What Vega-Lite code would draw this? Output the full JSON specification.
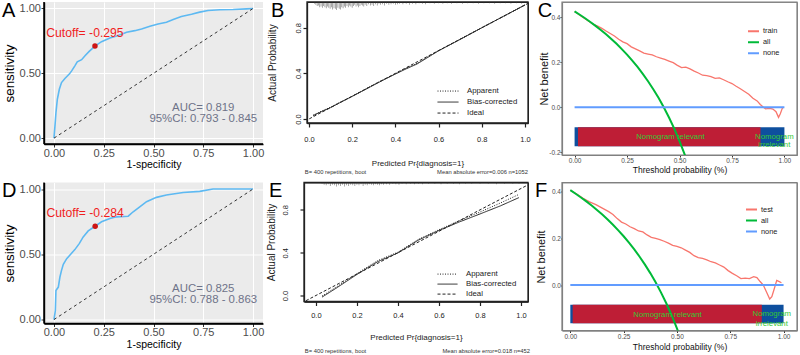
{
  "$schema": "https://vega.github.io/schema/vega-lite/v6.json",
  "background": "white",
  "padding": {"left": 2, "top": 0, "right": 0, "bottom": 0},
  "config": {
    "font": "Liberation Sans",
    "view": {"stroke": "#222222", "strokeWidth": 1},
    "title": {"anchor": "start", "frame": "bounds", "fontSize": 20, "fontWeight": "normal", "color": "#000000", "baseline": "top", "offset": -19.5},
    "legend": {"padding": 0}
  },
  "datasets": {
    "diag": [{"d": 0}, {"d": 1}],
    "rocTrain": [
      {"fpr": 0, "tpr": 0}, {"fpr": 0.005, "tpr": 0.093}, {"fpr": 0.01, "tpr": 0.196}, {"fpr": 0.017, "tpr": 0.3},
      {"fpr": 0.027, "tpr": 0.377}, {"fpr": 0.038, "tpr": 0.429}, {"fpr": 0.055, "tpr": 0.46}, {"fpr": 0.077, "tpr": 0.494},
      {"fpr": 0.089, "tpr": 0.519}, {"fpr": 0.105, "tpr": 0.558}, {"fpr": 0.117, "tpr": 0.589}, {"fpr": 0.139, "tpr": 0.605},
      {"fpr": 0.156, "tpr": 0.636}, {"fpr": 0.177, "tpr": 0.669}, {"fpr": 0.206, "tpr": 0.71}, {"fpr": 0.239, "tpr": 0.744},
      {"fpr": 0.281, "tpr": 0.773}, {"fpr": 0.323, "tpr": 0.791}, {"fpr": 0.365, "tpr": 0.817}, {"fpr": 0.406, "tpr": 0.829},
      {"fpr": 0.44, "tpr": 0.842}, {"fpr": 0.482, "tpr": 0.863}, {"fpr": 0.523, "tpr": 0.881}, {"fpr": 0.565, "tpr": 0.894},
      {"fpr": 0.599, "tpr": 0.915}, {"fpr": 0.64, "tpr": 0.938}, {"fpr": 0.691, "tpr": 0.956}, {"fpr": 0.732, "tpr": 0.972},
      {"fpr": 0.774, "tpr": 0.984}, {"fpr": 0.833, "tpr": 0.99}, {"fpr": 0.9, "tpr": 0.992}, {"fpr": 0.967, "tpr": 0.997},
      {"fpr": 1, "tpr": 1}
    ],
    "cutTrain": [{"fpr": 0.206, "tpr": 0.71, "label": "Cutoff= -0.295"}],
    "rocTest": [
      {"fpr": 0, "tpr": 0}, {"fpr": 0.007, "tpr": 0.069}, {"fpr": 0.01, "tpr": 0.223}, {"fpr": 0.022, "tpr": 0.249},
      {"fpr": 0.03, "tpr": 0.326}, {"fpr": 0.038, "tpr": 0.377}, {"fpr": 0.047, "tpr": 0.423}, {"fpr": 0.064, "tpr": 0.467},
      {"fpr": 0.084, "tpr": 0.5}, {"fpr": 0.105, "tpr": 0.536}, {"fpr": 0.127, "tpr": 0.582}, {"fpr": 0.147, "tpr": 0.633},
      {"fpr": 0.172, "tpr": 0.679}, {"fpr": 0.207, "tpr": 0.715}, {"fpr": 0.239, "tpr": 0.749}, {"fpr": 0.281, "tpr": 0.774},
      {"fpr": 0.314, "tpr": 0.787}, {"fpr": 0.373, "tpr": 0.792}, {"fpr": 0.398, "tpr": 0.826}, {"fpr": 0.431, "tpr": 0.864},
      {"fpr": 0.465, "tpr": 0.903}, {"fpr": 0.515, "tpr": 0.936}, {"fpr": 0.565, "tpr": 0.954}, {"fpr": 0.649, "tpr": 0.974},
      {"fpr": 0.732, "tpr": 0.982}, {"fpr": 0.799, "tpr": 1}, {"fpr": 1, "tpr": 1}
    ],
    "cutTest": [{"fpr": 0.207, "tpr": 0.715, "label": "Cutoff= -0.284"}],
    "calTrain": [
      {"curve": "Apparent", "pred": 0.02, "obs": 0.035}, {"curve": "Apparent", "pred": 0.05, "obs": 0.062},
      {"curve": "Apparent", "pred": 0.1, "obs": 0.104}, {"curve": "Apparent", "pred": 0.15, "obs": 0.152},
      {"curve": "Apparent", "pred": 0.2, "obs": 0.2}, {"curve": "Apparent", "pred": 0.25, "obs": 0.25},
      {"curve": "Apparent", "pred": 0.3, "obs": 0.302}, {"curve": "Apparent", "pred": 0.35, "obs": 0.35},
      {"curve": "Apparent", "pred": 0.4, "obs": 0.398}, {"curve": "Apparent", "pred": 0.45, "obs": 0.445},
      {"curve": "Apparent", "pred": 0.5, "obs": 0.488}, {"curve": "Apparent", "pred": 0.55, "obs": 0.545},
      {"curve": "Apparent", "pred": 0.6, "obs": 0.6}, {"curve": "Apparent", "pred": 0.7, "obs": 0.7},
      {"curve": "Apparent", "pred": 0.8, "obs": 0.8}, {"curve": "Apparent", "pred": 0.9, "obs": 0.9},
      {"curve": "Apparent", "pred": 1.0, "obs": 1.0},
      {"curve": "Bias-corrected", "pred": 0.02, "obs": 0.03}, {"curve": "Bias-corrected", "pred": 0.05, "obs": 0.058},
      {"curve": "Bias-corrected", "pred": 0.1, "obs": 0.1}, {"curve": "Bias-corrected", "pred": 0.15, "obs": 0.15},
      {"curve": "Bias-corrected", "pred": 0.2, "obs": 0.198}, {"curve": "Bias-corrected", "pred": 0.25, "obs": 0.248},
      {"curve": "Bias-corrected", "pred": 0.3, "obs": 0.298}, {"curve": "Bias-corrected", "pred": 0.35, "obs": 0.347},
      {"curve": "Bias-corrected", "pred": 0.4, "obs": 0.394}, {"curve": "Bias-corrected", "pred": 0.45, "obs": 0.44},
      {"curve": "Bias-corrected", "pred": 0.5, "obs": 0.482}, {"curve": "Bias-corrected", "pred": 0.55, "obs": 0.54},
      {"curve": "Bias-corrected", "pred": 0.6, "obs": 0.598}, {"curve": "Bias-corrected", "pred": 0.7, "obs": 0.698},
      {"curve": "Bias-corrected", "pred": 0.8, "obs": 0.8}, {"curve": "Bias-corrected", "pred": 0.9, "obs": 0.9},
      {"curve": "Bias-corrected", "pred": 1.0, "obs": 1.0},
      {"curve": "Ideal", "pred": -0.06, "obs": -0.06}, {"curve": "Ideal", "pred": 1.06, "obs": 1.06}
    ],
    "calTest": [
      {"curve": "Apparent", "pred": 0.03, "obs": -0.005}, {"curve": "Apparent", "pred": 0.1, "obs": 0.08},
      {"curve": "Apparent", "pred": 0.2, "obs": 0.205}, {"curve": "Apparent", "pred": 0.3, "obs": 0.325},
      {"curve": "Apparent", "pred": 0.4, "obs": 0.405}, {"curve": "Apparent", "pred": 0.5, "obs": 0.525},
      {"curve": "Apparent", "pred": 0.6, "obs": 0.615}, {"curve": "Apparent", "pred": 0.7, "obs": 0.7},
      {"curve": "Apparent", "pred": 0.8, "obs": 0.78}, {"curve": "Apparent", "pred": 0.9, "obs": 0.865},
      {"curve": "Apparent", "pred": 0.99, "obs": 0.945},
      {"curve": "Bias-corrected", "pred": 0.03, "obs": -0.015}, {"curve": "Bias-corrected", "pred": 0.1, "obs": 0.07},
      {"curve": "Bias-corrected", "pred": 0.2, "obs": 0.197}, {"curve": "Bias-corrected", "pred": 0.3, "obs": 0.315},
      {"curve": "Bias-corrected", "pred": 0.4, "obs": 0.398}, {"curve": "Bias-corrected", "pred": 0.5, "obs": 0.518},
      {"curve": "Bias-corrected", "pred": 0.6, "obs": 0.608}, {"curve": "Bias-corrected", "pred": 0.7, "obs": 0.688},
      {"curve": "Bias-corrected", "pred": 0.8, "obs": 0.762}, {"curve": "Bias-corrected", "pred": 0.9, "obs": 0.838},
      {"curve": "Bias-corrected", "pred": 0.99, "obs": 0.915},
      {"curve": "Ideal", "pred": -0.07, "obs": -0.07}, {"curve": "Ideal", "pred": 1.07, "obs": 1.07}
    ],
    "rugTrain": [
      {"p": 0.025, "n": 3}, {"p": 0.032, "n": 5}, {"p": 0.038, "n": 7}, {"p": 0.044, "n": 6}, {"p": 0.05, "n": 9},
      {"p": 0.056, "n": 8}, {"p": 0.062, "n": 10}, {"p": 0.068, "n": 7}, {"p": 0.074, "n": 9}, {"p": 0.08, "n": 11},
      {"p": 0.086, "n": 8}, {"p": 0.092, "n": 10}, {"p": 0.098, "n": 12}, {"p": 0.104, "n": 9}, {"p": 0.11, "n": 13},
      {"p": 0.116, "n": 11}, {"p": 0.122, "n": 12}, {"p": 0.128, "n": 14}, {"p": 0.134, "n": 10}, {"p": 0.14, "n": 12},
      {"p": 0.146, "n": 13}, {"p": 0.152, "n": 9}, {"p": 0.158, "n": 11}, {"p": 0.164, "n": 8}, {"p": 0.17, "n": 10},
      {"p": 0.176, "n": 7}, {"p": 0.182, "n": 9}, {"p": 0.188, "n": 6}, {"p": 0.194, "n": 8}, {"p": 0.2, "n": 10},
      {"p": 0.206, "n": 7}, {"p": 0.212, "n": 5}, {"p": 0.218, "n": 8}, {"p": 0.224, "n": 6}, {"p": 0.23, "n": 9},
      {"p": 0.236, "n": 7}, {"p": 0.242, "n": 5}, {"p": 0.248, "n": 6}, {"p": 0.254, "n": 8}, {"p": 0.26, "n": 5},
      {"p": 0.268, "n": 7}, {"p": 0.276, "n": 4}, {"p": 0.284, "n": 6}, {"p": 0.292, "n": 5}, {"p": 0.3, "n": 7},
      {"p": 0.308, "n": 4}, {"p": 0.316, "n": 6}, {"p": 0.324, "n": 3}, {"p": 0.332, "n": 5}, {"p": 0.34, "n": 4},
      {"p": 0.35, "n": 6}, {"p": 0.36, "n": 3}, {"p": 0.37, "n": 5}, {"p": 0.38, "n": 4}, {"p": 0.39, "n": 3},
      {"p": 0.4, "n": 5}, {"p": 0.41, "n": 4}, {"p": 0.42, "n": 3}, {"p": 0.435, "n": 4}, {"p": 0.45, "n": 3},
      {"p": 0.465, "n": 5}, {"p": 0.48, "n": 3}, {"p": 0.495, "n": 4}, {"p": 0.51, "n": 2}, {"p": 0.525, "n": 3},
      {"p": 0.54, "n": 4}, {"p": 0.56, "n": 2}, {"p": 0.58, "n": 3}, {"p": 0.6, "n": 2}, {"p": 0.62, "n": 3},
      {"p": 0.64, "n": 2}, {"p": 0.66, "n": 3}, {"p": 0.685, "n": 2}, {"p": 0.71, "n": 3}, {"p": 0.735, "n": 2},
      {"p": 0.76, "n": 2}, {"p": 0.785, "n": 3}, {"p": 0.81, "n": 2}, {"p": 0.835, "n": 2}, {"p": 0.86, "n": 3},
      {"p": 0.885, "n": 2}, {"p": 0.91, "n": 2}, {"p": 0.935, "n": 3}, {"p": 0.96, "n": 2}, {"p": 0.985, "n": 3}
    ],
    "rugTest": [
      {"p": 0.03, "n": 2}, {"p": 0.04, "n": 4}, {"p": 0.05, "n": 5}, {"p": 0.06, "n": 3}, {"p": 0.07, "n": 6},
      {"p": 0.08, "n": 4}, {"p": 0.09, "n": 5}, {"p": 0.1, "n": 7}, {"p": 0.11, "n": 5}, {"p": 0.12, "n": 6},
      {"p": 0.13, "n": 4}, {"p": 0.14, "n": 7}, {"p": 0.15, "n": 5}, {"p": 0.16, "n": 6}, {"p": 0.17, "n": 4},
      {"p": 0.18, "n": 5}, {"p": 0.19, "n": 6}, {"p": 0.2, "n": 4}, {"p": 0.21, "n": 5}, {"p": 0.22, "n": 3},
      {"p": 0.23, "n": 6}, {"p": 0.24, "n": 4}, {"p": 0.25, "n": 5}, {"p": 0.26, "n": 3}, {"p": 0.27, "n": 4},
      {"p": 0.28, "n": 5}, {"p": 0.29, "n": 3}, {"p": 0.3, "n": 4}, {"p": 0.31, "n": 5}, {"p": 0.32, "n": 3},
      {"p": 0.33, "n": 4}, {"p": 0.345, "n": 3}, {"p": 0.36, "n": 4}, {"p": 0.375, "n": 2}, {"p": 0.39, "n": 3},
      {"p": 0.405, "n": 4}, {"p": 0.42, "n": 2}, {"p": 0.44, "n": 3}, {"p": 0.46, "n": 2}, {"p": 0.48, "n": 3},
      {"p": 0.5, "n": 2}, {"p": 0.52, "n": 3}, {"p": 0.55, "n": 2}, {"p": 0.58, "n": 2}, {"p": 0.61, "n": 3},
      {"p": 0.64, "n": 2}, {"p": 0.67, "n": 2}, {"p": 0.7, "n": 3}, {"p": 0.73, "n": 2}, {"p": 0.76, "n": 2},
      {"p": 0.8, "n": 2}, {"p": 0.84, "n": 2}, {"p": 0.88, "n": 3}, {"p": 0.92, "n": 2}, {"p": 0.96, "n": 2},
      {"p": 0.99, "n": 2}
    ],
    "zonesTrain": [
      {"zone": "irrelevant", "from": 0, "to": 1},
      {"zone": "relevant", "from": 0.016, "to": 0.886}
    ],
    "zonesTest": [
      {"zone": "irrelevant", "from": 0, "to": 1},
      {"zone": "relevant", "from": 0.011, "to": 0.898}
    ],
    "dcaTrain": [
      {"curve": "train", "t": 0, "nb": 0.425}, {"curve": "train", "t": 0.03, "nb": 0.405}, {"curve": "train", "t": 0.06, "nb": 0.386},
      {"curve": "train", "t": 0.09, "nb": 0.368}, {"curve": "train", "t": 0.11, "nb": 0.36}, {"curve": "train", "t": 0.13, "nb": 0.35},
      {"curve": "train", "t": 0.15, "nb": 0.338}, {"curve": "train", "t": 0.17, "nb": 0.327}, {"curve": "train", "t": 0.19, "nb": 0.316},
      {"curve": "train", "t": 0.21, "nb": 0.302}, {"curve": "train", "t": 0.23, "nb": 0.29}, {"curve": "train", "t": 0.25, "nb": 0.282},
      {"curve": "train", "t": 0.27, "nb": 0.268}, {"curve": "train", "t": 0.29, "nb": 0.259}, {"curve": "train", "t": 0.31, "nb": 0.25},
      {"curve": "train", "t": 0.33, "nb": 0.24}, {"curve": "train", "t": 0.35, "nb": 0.236}, {"curve": "train", "t": 0.37, "nb": 0.232},
      {"curve": "train", "t": 0.39, "nb": 0.224}, {"curve": "train", "t": 0.41, "nb": 0.218}, {"curve": "train", "t": 0.43, "nb": 0.212},
      {"curve": "train", "t": 0.45, "nb": 0.205}, {"curve": "train", "t": 0.47, "nb": 0.198}, {"curve": "train", "t": 0.49, "nb": 0.186},
      {"curve": "train", "t": 0.51, "nb": 0.176}, {"curve": "train", "t": 0.53, "nb": 0.178}, {"curve": "train", "t": 0.55, "nb": 0.17},
      {"curve": "train", "t": 0.57, "nb": 0.16}, {"curve": "train", "t": 0.59, "nb": 0.152}, {"curve": "train", "t": 0.61, "nb": 0.142},
      {"curve": "train", "t": 0.63, "nb": 0.14}, {"curve": "train", "t": 0.65, "nb": 0.136}, {"curve": "train", "t": 0.67, "nb": 0.128},
      {"curve": "train", "t": 0.69, "nb": 0.13}, {"curve": "train", "t": 0.71, "nb": 0.122}, {"curve": "train", "t": 0.73, "nb": 0.113},
      {"curve": "train", "t": 0.75, "nb": 0.105}, {"curve": "train", "t": 0.77, "nb": 0.093}, {"curve": "train", "t": 0.79, "nb": 0.082},
      {"curve": "train", "t": 0.81, "nb": 0.07}, {"curve": "train", "t": 0.83, "nb": 0.058}, {"curve": "train", "t": 0.85, "nb": 0.04},
      {"curve": "train", "t": 0.87, "nb": 0.028}, {"curve": "train", "t": 0.885, "nb": 0.012}, {"curve": "train", "t": 0.9, "nb": 0.0},
      {"curve": "train", "t": 0.91, "nb": -0.007}, {"curve": "train", "t": 0.93, "nb": -0.005}, {"curve": "train", "t": 0.945, "nb": -0.008},
      {"curve": "train", "t": 0.96, "nb": -0.02}, {"curve": "train", "t": 0.972, "nb": -0.045}, {"curve": "train", "t": 0.98, "nb": -0.03},
      {"curve": "train", "t": 0.99, "nb": -0.005}, {"curve": "train", "t": 0.995, "nb": 0.0},
      {"curve": "all", "t": 0, "nb": 0.425}, {"curve": "all", "t": 0.025, "nb": 0.4103}, {"curve": "all", "t": 0.05, "nb": 0.3947},
      {"curve": "all", "t": 0.075, "nb": 0.3784}, {"curve": "all", "t": 0.1, "nb": 0.3611}, {"curve": "all", "t": 0.125, "nb": 0.3429},
      {"curve": "all", "t": 0.15, "nb": 0.3235}, {"curve": "all", "t": 0.175, "nb": 0.303}, {"curve": "all", "t": 0.2, "nb": 0.2813},
      {"curve": "all", "t": 0.225, "nb": 0.2581}, {"curve": "all", "t": 0.25, "nb": 0.2333}, {"curve": "all", "t": 0.275, "nb": 0.2069},
      {"curve": "all", "t": 0.3, "nb": 0.1786}, {"curve": "all", "t": 0.325, "nb": 0.1481}, {"curve": "all", "t": 0.35, "nb": 0.1154},
      {"curve": "all", "t": 0.375, "nb": 0.08}, {"curve": "all", "t": 0.4, "nb": 0.0417}, {"curve": "all", "t": 0.425, "nb": 0.0},
      {"curve": "all", "t": 0.45, "nb": -0.0455}, {"curve": "all", "t": 0.475, "nb": -0.0952}, {"curve": "all", "t": 0.5, "nb": -0.15},
      {"curve": "all", "t": 0.525, "nb": -0.2105}, {"curve": "all", "t": 0.55, "nb": -0.2778},
      {"curve": "none", "t": 0, "nb": 0}, {"curve": "none", "t": 1, "nb": 0}
    ],
    "dcaTest": [
      {"curve": "test", "t": 0, "nb": 0.407}, {"curve": "test", "t": 0.03, "nb": 0.39}, {"curve": "test", "t": 0.06, "nb": 0.372},
      {"curve": "test", "t": 0.09, "nb": 0.357}, {"curve": "test", "t": 0.12, "nb": 0.345}, {"curve": "test", "t": 0.15, "nb": 0.33},
      {"curve": "test", "t": 0.18, "nb": 0.315}, {"curve": "test", "t": 0.2, "nb": 0.303}, {"curve": "test", "t": 0.22, "nb": 0.285},
      {"curve": "test", "t": 0.24, "nb": 0.27}, {"curve": "test", "t": 0.26, "nb": 0.262}, {"curve": "test", "t": 0.28, "nb": 0.25},
      {"curve": "test", "t": 0.3, "nb": 0.242}, {"curve": "test", "t": 0.32, "nb": 0.232}, {"curve": "test", "t": 0.34, "nb": 0.228},
      {"curve": "test", "t": 0.36, "nb": 0.215}, {"curve": "test", "t": 0.38, "nb": 0.205}, {"curve": "test", "t": 0.4, "nb": 0.2},
      {"curve": "test", "t": 0.42, "nb": 0.195}, {"curve": "test", "t": 0.44, "nb": 0.188}, {"curve": "test", "t": 0.46, "nb": 0.18},
      {"curve": "test", "t": 0.48, "nb": 0.17}, {"curve": "test", "t": 0.5, "nb": 0.166}, {"curve": "test", "t": 0.52, "nb": 0.16},
      {"curve": "test", "t": 0.54, "nb": 0.15}, {"curve": "test", "t": 0.56, "nb": 0.14}, {"curve": "test", "t": 0.58, "nb": 0.126},
      {"curve": "test", "t": 0.6, "nb": 0.118}, {"curve": "test", "t": 0.62, "nb": 0.114}, {"curve": "test", "t": 0.64, "nb": 0.108},
      {"curve": "test", "t": 0.66, "nb": 0.1}, {"curve": "test", "t": 0.68, "nb": 0.095}, {"curve": "test", "t": 0.7, "nb": 0.086},
      {"curve": "test", "t": 0.72, "nb": 0.077}, {"curve": "test", "t": 0.74, "nb": 0.062}, {"curve": "test", "t": 0.76, "nb": 0.05},
      {"curve": "test", "t": 0.78, "nb": 0.04}, {"curve": "test", "t": 0.8, "nb": 0.028}, {"curve": "test", "t": 0.82, "nb": 0.03},
      {"curve": "test", "t": 0.84, "nb": 0.028}, {"curve": "test", "t": 0.86, "nb": 0.036}, {"curve": "test", "t": 0.875, "nb": 0.032},
      {"curve": "test", "t": 0.89, "nb": 0.015}, {"curve": "test", "t": 0.905, "nb": 0.0}, {"curve": "test", "t": 0.92, "nb": -0.03},
      {"curve": "test", "t": 0.935, "nb": -0.06}, {"curve": "test", "t": 0.945, "nb": -0.05}, {"curve": "test", "t": 0.955, "nb": -0.02},
      {"curve": "test", "t": 0.968, "nb": 0.02}, {"curve": "test", "t": 0.98, "nb": 0.015}, {"curve": "test", "t": 0.99, "nb": 0.01},
      {"curve": "all", "t": 0, "nb": 0.407}, {"curve": "all", "t": 0.025, "nb": 0.3918}, {"curve": "all", "t": 0.05, "nb": 0.3758},
      {"curve": "all", "t": 0.075, "nb": 0.3589}, {"curve": "all", "t": 0.1, "nb": 0.3411}, {"curve": "all", "t": 0.125, "nb": 0.3223},
      {"curve": "all", "t": 0.15, "nb": 0.3024}, {"curve": "all", "t": 0.175, "nb": 0.2812}, {"curve": "all", "t": 0.2, "nb": 0.2588},
      {"curve": "all", "t": 0.225, "nb": 0.2348}, {"curve": "all", "t": 0.25, "nb": 0.2093}, {"curve": "all", "t": 0.275, "nb": 0.1821},
      {"curve": "all", "t": 0.3, "nb": 0.1529}, {"curve": "all", "t": 0.325, "nb": 0.1215}, {"curve": "all", "t": 0.35, "nb": 0.0877},
      {"curve": "all", "t": 0.375, "nb": 0.0512}, {"curve": "all", "t": 0.4, "nb": 0.0117}, {"curve": "all", "t": 0.425, "nb": -0.0313},
      {"curve": "all", "t": 0.45, "nb": -0.0782}, {"curve": "all", "t": 0.475, "nb": -0.1295}, {"curve": "all", "t": 0.5, "nb": -0.186},
      {"curve": "all", "t": 0.525, "nb": -0.2484},
      {"curve": "none", "t": 0, "nb": 0}, {"curve": "none", "t": 1, "nb": 0}
    ]
  },
  "bounds": "flush",
  "spacing": 180.5,
  "resolve": {
    "scale": {"color": "independent", "strokeDash": "independent", "fill": "independent", "size": "independent"},
    "legend": {"color": "independent", "strokeDash": "independent", "fill": "independent", "size": "independent"}
  },
  "vconcat": [
    {
      "bounds": "flush",
      "spacing": 44,
      "resolve": {
        "scale": {"color": "independent", "strokeDash": "independent", "fill": "independent", "size": "independent"},
        "legend": {"color": "independent", "strokeDash": "independent", "fill": "independent", "size": "independent"}
      },
      "hconcat": [
        {
          "width": 219,
          "height": 142,
          "view": {"fill": "#EBEBEB", "stroke": null},
          "title": {"text": "A"},
          "layer": [
            {
              "data": {"name": "rocTrain"},
              "mark": {"type": "line", "color": "#5DB9F2", "strokeWidth": 1.6, "clip": true},
              "encoding": {
                "x": {"field": "fpr", "type": "quantitative", "scale": {"domain": [-0.05, 1.05], "nice": false, "zero": false},
                  "axis": {"title": "1-specificity", "values": [0, 0.125, 0.25, 0.375, 0.5, 0.625, 0.75, 0.875, 1],
                    "labelExpr": "datum.value*4%1===0 ? format(datum.value,'.2f') : ''",
                    "grid": true, "gridColor": "#FFFFFF", "gridWidth": {"condition": {"test": "datum.value*4%1===0", "value": 1.1}, "value": 0.5},
                    "tickOpacity": {"condition": {"test": "datum.value*4%1===0", "value": 1}, "value": 0},
                    "domainColor": "#000000", "domainWidth": 1.4, "tickColor": "#333333", "tickSize": 3,
                    "labelColor": "#4D4D4D", "labelFontSize": 11, "labelPadding": 0, "labelOverlap": false, "labelFlush": false,
                    "titleColor": "#000000", "titleFontSize": 10.5, "titleFontWeight": "normal", "titlePadding": 1.5}},
                "y": {"field": "tpr", "type": "quantitative", "scale": {"domain": [-0.045, 1.05], "nice": false, "zero": false},
                  "axis": {"title": "sensitivity", "values": [0, 0.125, 0.25, 0.375, 0.5, 0.625, 0.75, 0.875, 1],
                    "labelExpr": "datum.value*4%1===0 ? format(datum.value,'.2f') : ''",
                    "grid": true, "gridColor": "#FFFFFF", "gridWidth": {"condition": {"test": "datum.value*4%1===0", "value": 1.1}, "value": 0.5},
                    "tickOpacity": {"condition": {"test": "datum.value*4%1===0", "value": 1}, "value": 0},
                    "domainColor": "#000000", "domainWidth": 1.4, "tickColor": "#333333", "tickSize": 3,
                    "labelColor": "#4D4D4D", "labelFontSize": 11, "labelPadding": 0.5, "labelOverlap": false, "labelFlush": false,
                    "titleColor": "#000000", "titleFontSize": 13.4, "titleFontWeight": "normal", "titlePadding": 3}}
              }
            },
            {
              "data": {"values": [{}]},
              "mark": {"type": "rule", "color": "#000000", "strokeWidth": 1.5},
              "encoding": {"x": {"datum": -0.05, "type": "quantitative"}, "y": {"datum": -0.045, "type": "quantitative"}, "y2": {"datum": 1.05}}
            },
            {
              "data": {"values": [{}]},
              "mark": {"type": "rule", "color": "#000000", "strokeWidth": 1.5},
              "encoding": {"y": {"datum": -0.045, "type": "quantitative"}, "x": {"datum": -0.05, "type": "quantitative"}, "x2": {"datum": 1.05}}
            },
            {
              "data": {"name": "diag"},
              "mark": {"type": "line", "color": "#333333", "strokeDash": [3, 3], "strokeWidth": 1},
              "encoding": {"x": {"field": "d", "type": "quantitative"}, "y": {"field": "d", "type": "quantitative"}}
            },
            {
              "data": {"name": "cutTrain"},
              "mark": {"type": "point", "filled": true, "color": "#CC1414", "size": 30, "opacity": 1},
              "encoding": {"x": {"field": "fpr", "type": "quantitative"}, "y": {"field": "tpr", "type": "quantitative"}}
            },
            {
              "data": {"name": "cutTrain"},
              "mark": {"type": "text", "color": "#F01E1E", "fontSize": 12.2, "dx": -10, "dy": -13},
              "encoding": {"x": {"field": "fpr", "type": "quantitative"}, "y": {"field": "tpr", "type": "quantitative"}, "text": {"field": "label"}}
            },
            {
              "data": {"values": [{}]},
              "mark": {"type": "text", "color": "#6E7389", "fontSize": 11.4, "lineHeight": 11.4},
              "encoding": {"x": {"datum": 0.75, "type": "quantitative"}, "y": {"datum": 0.235, "type": "quantitative"},
                "text": {"value": ["AUC= 0.819", "95%CI: 0.793 - 0.845"]}}
            }
          ]
        },
        {
          "bounds": "flush",
          "spacing": 34,
          "resolve": {
            "scale": {"color": "independent", "strokeDash": "independent", "fill": "independent", "size": "independent"},
            "legend": {"color": "independent", "strokeDash": "independent", "fill": "independent", "size": "independent"}
          },
          "hconcat": [
            {
              "width": 221,
              "height": 121,
              "view": {"fill": "#FFFFFF", "stroke": "#222222", "strokeWidth": 1},
              "title": {"text": "B", "dx": 4},
              "layer": [
                {
                  "data": {"name": "calTrain"},
                  "mark": {"type": "line", "strokeWidth": 1, "clip": true, "color": "#222222"},
                  "encoding": {
                    "x": {"field": "pred", "type": "quantitative", "scale": {"domain": [-0.009, 1.014], "nice": false, "zero": false},
                      "axis": {"title": "Predicted Pr{diagnosis=1}", "values": [0, 0.2, 0.4, 0.6, 0.8, 1], "format": ".1f", "grid": false,
                        "domain": true, "domainColor": "#222222", "domainWidth": 1.3,
                        "tickColor": "#222222", "tickSize": 4, "tickWidth": 1.2, "labelFontSize": 7.5, "labelColor": "#222222", "labelPadding": 8,
                        "labelFlush": false, "labelOverlap": false, "titleFontSize": 8, "titleFontWeight": "normal", "titleColor": "#222222", "titlePadding": 17}},
                    "y": {"field": "obs", "type": "quantitative", "scale": {"domain": [-0.035, 1.026], "nice": false, "zero": false},
                      "axis": {"title": "Actual Probability", "values": [0, 0.2, 0.4, 0.6, 0.8, 1], "format": ".1f", "grid": false,
                        "domain": true, "domainColor": "#222222", "domainWidth": 1.3,
                        "tickColor": "#222222", "tickSize": 4, "tickWidth": 1.2, "labelAngle": 270, "labelAlign": "center", "labelBaseline": "bottom",
                        "labelFontSize": 7.5, "labelColor": "#222222", "labelPadding": 0.4, "labelFlush": false, "labelOverlap": false,
                        "titleFontSize": 10, "titleFontWeight": "normal", "titleColor": "#222222", "titlePadding": 17.5}},
                    "strokeDash": {"field": "curve", "type": "nominal",
                      "scale": {"domain": ["Apparent", "Bias-corrected", "Ideal"], "range": [[1, 1.5], [1, 0], [3, 2]]},
                      "legend": {"orient": "none", "legendX": 130, "legendY": 83.7, "title": null, "symbolType": "stroke", "symbolSize": 441,
                        "symbolStrokeWidth": 1, "symbolStrokeColor": "#222222", "labelFontSize": 7.8, "labelColor": "#222222",
                        "labelOffset": 8, "clipHeight": 10.7, "rowPadding": 0, "padding": 0}}
                  }
                },
                {
                  "data": {"values": [{}]},
                  "mark": {"type": "rect", "filled": false, "color": "#222222", "strokeWidth": 1.3},
                  "encoding": {"x": {"datum": -0.009, "type": "quantitative"}, "x2": {"datum": 1.014}, "y": {"datum": -0.035, "type": "quantitative"}, "y2": {"datum": 1.026}}
                },
                {
                  "data": {"name": "rugTrain"},
                  "mark": {"type": "tick", "orient": "vertical", "color": "#333333", "thickness": 0.6, "clip": true},
                  "encoding": {
                    "x": {"field": "p", "type": "quantitative"},
                    "y": {"datum": 1.026, "type": "quantitative"},
                    "size": {"field": "n", "type": "quantitative", "scale": {"domain": [0, 14], "range": [0, 16]}, "legend": null}
                  }
                },
                {
                  "data": {"values": [{}]},
                  "mark": {"type": "text", "align": "left", "baseline": "middle", "fontSize": 5.8, "color": "#333333"},
                  "encoding": {"x": {"datum": -0.019, "type": "quantitative"}, "y": {"datum": -0.465, "type": "quantitative"}, "text": {"value": "B= 400 repetitions, boot"}}
                },
                {
                  "data": {"values": [{}]},
                  "mark": {"type": "text", "align": "right", "baseline": "middle", "fontSize": 5.8, "color": "#333333"},
                  "encoding": {"x": {"datum": 1.014, "type": "quantitative"}, "y": {"datum": -0.465, "type": "quantitative"}, "text": {"value": "Mean absolute error=0.006 n=1052"}}
                }
              ]
            },
            {
              "width": 235,
              "height": 153,
              "view": {"fill": "#FFFFFF", "stroke": "#8C8C8C", "strokeWidth": 1},
              "title": {"text": "C", "dx": -1},
              "layer": [
                {
                  "data": {"name": "zonesTrain"},
                  "mark": {"type": "rect"},
                  "encoding": {
                    "x": {"field": "from", "type": "quantitative", "scale": {"domain": [-0.06, 1.06], "nice": false, "zero": false},
                      "axis": {"title": "Threshold probability (%)", "values": [0, 0.25, 0.5, 0.75, 1], "format": ".2f", "grid": false,
                        "domain": true, "domainColor": "#808080", "domainWidth": 1.2,
                        "tickColor": "#333333", "tickSize": 2, "labelFontSize": 6.5, "labelColor": "#4D4D4D", "labelPadding": 0, "labelFlush": false,
                        "labelOverlap": false, "titleFontSize": 8.5, "titleFontWeight": "normal", "titleColor": "#111111", "titlePadding": 2}},
                    "x2": {"field": "to"},
                    "y": {"datum": -0.089, "type": "quantitative", "scale": {"domain": [-0.212, 0.467], "nice": false, "zero": false},
                      "axis": {"title": "Net benefit", "values": [-0.2, 0, 0.2, 0.4],
                        "labelExpr": "datum.value < 0 ? '-' + format(-datum.value, '.1f') : format(datum.value, '.1f')",
                        "grid": false, "domain": true, "domainColor": "#808080", "domainWidth": 1.2,
                        "tickColor": "#333333", "tickSize": 2, "labelFontSize": 6.5, "labelColor": "#4D4D4D",
                        "labelPadding": 0, "labelFlush": false, "labelOverlap": false, "titleFontSize": 11, "titleFontWeight": "normal",
                        "titleColor": "#111111", "titlePadding": -1}},
                    "y2": {"datum": -0.173},
                    "fill": {"field": "zone", "type": "nominal", "scale": {"domain": ["irrelevant", "relevant"], "range": ["#0E4F9E", "#BE1E36"]}, "legend": null}
                  }
                },
                {
                  "data": {"values": [{}]},
                  "mark": {"type": "rect", "filled": false, "color": "#808080", "strokeWidth": 1.2},
                  "encoding": {"x": {"datum": -0.06, "type": "quantitative"}, "x2": {"datum": 1.06}, "y": {"datum": -0.212, "type": "quantitative"}, "y2": {"datum": 0.467}}
                },
                {
                  "data": {"name": "dcaTrain"},
                  "transform": [{"filter": "datum.curve === 'train'"}],
                  "mark": {"type": "line", "clip": true, "strokeWidth": 1.3},
                  "encoding": {
                    "x": {"field": "t", "type": "quantitative"},
                    "y": {"field": "nb", "type": "quantitative"},
                    "color": {"field": "curve", "type": "nominal", "scale": {"domain": ["train", "all", "none"], "range": ["#F8766D", "#00BA38", "#619CFF"]},
                      "legend": {"orient": "none", "legendX": 185, "legendY": 24, "title": null, "symbolType": "stroke", "symbolSize": 121,
                        "symbolStrokeWidth": 2, "labelFontSize": 7.4, "labelColor": "#1A1A1A", "labelOffset": 3, "clipHeight": 10.5, "rowPadding": 0, "padding": 0}}
                  }
                },
                {
                  "data": {"name": "dcaTrain"},
                  "transform": [{"filter": "datum.curve !== 'train'"}],
                  "mark": {"type": "line", "clip": true, "strokeWidth": 2},
                  "encoding": {
                    "x": {"field": "t", "type": "quantitative"},
                    "y": {"field": "nb", "type": "quantitative"},
                    "color": {"field": "curve", "type": "nominal"}
                  }
                },
                {
                  "data": {"values": [{}]},
                  "mark": {"type": "text", "color": "#34C934", "fontSize": 7.8},
                  "encoding": {"x": {"datum": 0.457, "type": "quantitative"}, "y": {"datum": -0.133, "type": "quantitative"}, "text": {"value": "Nomogram relevant"}}
                },
                {
                  "data": {"values": [{}]},
                  "mark": {"type": "text", "color": "#34C934", "fontSize": 7.8, "lineHeight": 8.3},
                  "encoding": {"x": {"datum": 0.952, "type": "quantitative"}, "y": {"datum": -0.13, "type": "quantitative"}, "text": {"value": ["Nomogram", "irrelevant"]}}
                }
              ]
            }
          ]
        }
      ]
    },
    {
      "bounds": "flush",
      "spacing": 41,
      "resolve": {
        "scale": {"color": "independent", "strokeDash": "independent", "fill": "independent", "size": "independent"},
        "legend": {"color": "independent", "strokeDash": "independent", "fill": "independent", "size": "independent"}
      },
      "hconcat": [
        {
          "width": 219,
          "height": 141,
          "view": {"fill": "#EBEBEB", "stroke": null},
          "title": {"text": "D"},
          "layer": [
            {
              "data": {"name": "rocTest"},
              "mark": {"type": "line", "color": "#5DB9F2", "strokeWidth": 1.6, "clip": true},
              "encoding": {
                "x": {"field": "fpr", "type": "quantitative", "scale": {"domain": [-0.05, 1.05], "nice": false, "zero": false},
                  "axis": {"title": "1-specificity", "values": [0, 0.125, 0.25, 0.375, 0.5, 0.625, 0.75, 0.875, 1],
                    "labelExpr": "datum.value*4%1===0 ? format(datum.value,'.2f') : ''",
                    "grid": true, "gridColor": "#FFFFFF", "gridWidth": {"condition": {"test": "datum.value*4%1===0", "value": 1.1}, "value": 0.5},
                    "tickOpacity": {"condition": {"test": "datum.value*4%1===0", "value": 1}, "value": 0},
                    "domainColor": "#000000", "domainWidth": 1.4, "tickColor": "#333333", "tickSize": 3,
                    "labelColor": "#4D4D4D", "labelFontSize": 11, "labelPadding": 0, "labelOverlap": false, "labelFlush": false,
                    "titleColor": "#000000", "titleFontSize": 10.5, "titleFontWeight": "normal", "titlePadding": 1.5}},
                "y": {"field": "tpr", "type": "quantitative", "scale": {"domain": [-0.03, 1.05], "nice": false, "zero": false},
                  "axis": {"title": "sensitivity", "values": [0, 0.125, 0.25, 0.375, 0.5, 0.625, 0.75, 0.875, 1],
                    "labelExpr": "datum.value*4%1===0 ? format(datum.value,'.2f') : ''",
                    "grid": true, "gridColor": "#FFFFFF", "gridWidth": {"condition": {"test": "datum.value*4%1===0", "value": 1.1}, "value": 0.5},
                    "tickOpacity": {"condition": {"test": "datum.value*4%1===0", "value": 1}, "value": 0},
                    "domainColor": "#000000", "domainWidth": 1.4, "tickColor": "#333333", "tickSize": 3,
                    "labelColor": "#4D4D4D", "labelFontSize": 11, "labelPadding": 0.5, "labelOverlap": false, "labelFlush": false,
                    "titleColor": "#000000", "titleFontSize": 13.4, "titleFontWeight": "normal", "titlePadding": 3}}
              }
            },
            {
              "data": {"values": [{}]},
              "mark": {"type": "rule", "color": "#000000", "strokeWidth": 1.5},
              "encoding": {"x": {"datum": -0.05, "type": "quantitative"}, "y": {"datum": -0.03, "type": "quantitative"}, "y2": {"datum": 1.05}}
            },
            {
              "data": {"values": [{}]},
              "mark": {"type": "rule", "color": "#000000", "strokeWidth": 1.5},
              "encoding": {"y": {"datum": -0.03, "type": "quantitative"}, "x": {"datum": -0.05, "type": "quantitative"}, "x2": {"datum": 1.05}}
            },
            {
              "data": {"name": "diag"},
              "mark": {"type": "line", "color": "#333333", "strokeDash": [3, 3], "strokeWidth": 1},
              "encoding": {"x": {"field": "d", "type": "quantitative"}, "y": {"field": "d", "type": "quantitative"}}
            },
            {
              "data": {"name": "cutTest"},
              "mark": {"type": "point", "filled": true, "color": "#CC1414", "size": 30, "opacity": 1},
              "encoding": {"x": {"field": "fpr", "type": "quantitative"}, "y": {"field": "tpr", "type": "quantitative"}}
            },
            {
              "data": {"name": "cutTest"},
              "mark": {"type": "text", "color": "#F01E1E", "fontSize": 12.2, "dx": -10, "dy": -13},
              "encoding": {"x": {"field": "fpr", "type": "quantitative"}, "y": {"field": "tpr", "type": "quantitative"}, "text": {"field": "label"}}
            },
            {
              "data": {"values": [{}]},
              "mark": {"type": "text", "color": "#6E7389", "fontSize": 11.4, "lineHeight": 11.4},
              "encoding": {"x": {"datum": 0.75, "type": "quantitative"}, "y": {"datum": 0.235, "type": "quantitative"},
                "text": {"value": ["AUC= 0.825", "95%CI: 0.788 - 0.863"]}}
            }
          ]
        },
        {
          "bounds": "flush",
          "spacing": 34,
          "resolve": {
            "scale": {"color": "independent", "strokeDash": "independent", "fill": "independent", "size": "independent"},
            "legend": {"color": "independent", "strokeDash": "independent", "fill": "independent", "size": "independent"}
          },
          "hconcat": [
            {
              "width": 224,
              "height": 119,
              "view": {"fill": "#FFFFFF", "stroke": "#222222", "strokeWidth": 1},
              "title": {"text": "E", "dx": 3},
              "layer": [
                {
                  "data": {"name": "calTest"},
                  "mark": {"type": "line", "strokeWidth": 1, "clip": true, "color": "#222222"},
                  "encoding": {
                    "x": {"field": "pred", "type": "quantitative", "scale": {"domain": [-0.058, 1.034], "nice": false, "zero": false},
                      "axis": {"title": "Predicted Pr{diagnosis=1}", "values": [0, 0.2, 0.4, 0.6, 0.8, 1], "format": ".1f", "grid": false,
                        "domain": true, "domainColor": "#222222", "domainWidth": 1.3,
                        "tickColor": "#222222", "tickSize": 4, "tickWidth": 1.2, "labelFontSize": 7.5, "labelColor": "#222222", "labelPadding": 5.5,
                        "labelFlush": false, "labelOverlap": false, "titleFontSize": 8, "titleFontWeight": "normal", "titleColor": "#222222", "titlePadding": 15}},
                    "y": {"field": "obs", "type": "quantitative", "scale": {"domain": [-0.056, 1.056], "nice": false, "zero": false},
                      "axis": {"title": "Actual Probability", "values": [0, 0.2, 0.4, 0.6, 0.8, 1], "format": ".1f", "grid": false,
                        "domain": true, "domainColor": "#222222", "domainWidth": 1.3,
                        "tickColor": "#222222", "tickSize": 4, "tickWidth": 1.2, "labelAngle": 270, "labelAlign": "center", "labelBaseline": "bottom",
                        "labelFontSize": 7.5, "labelColor": "#222222", "labelPadding": 11, "labelFlush": false, "labelOverlap": false,
                        "titleFontSize": 10, "titleFontWeight": "normal", "titleColor": "#222222", "titlePadding": 5}},
                    "strokeDash": {"field": "curve", "type": "nominal",
                      "scale": {"domain": ["Apparent", "Bias-corrected", "Ideal"], "range": [[1, 1.5], [1, 0], [3, 2]]},
                      "legend": {"orient": "none", "legendX": 133, "legendY": 87, "title": null, "symbolType": "stroke", "symbolSize": 400,
                        "symbolStrokeWidth": 1, "symbolStrokeColor": "#222222", "labelFontSize": 7.8, "labelColor": "#222222",
                        "labelOffset": 8, "clipHeight": 9.2, "rowPadding": 0, "padding": 0}}
                  }
                },
                {
                  "data": {"values": [{}]},
                  "mark": {"type": "rect", "filled": false, "color": "#222222", "strokeWidth": 1.3},
                  "encoding": {"x": {"datum": -0.058, "type": "quantitative"}, "x2": {"datum": 1.034}, "y": {"datum": -0.056, "type": "quantitative"}, "y2": {"datum": 1.056}}
                },
                {
                  "data": {"name": "rugTest"},
                  "mark": {"type": "tick", "orient": "vertical", "color": "#333333", "thickness": 0.6, "clip": true},
                  "encoding": {
                    "x": {"field": "p", "type": "quantitative"},
                    "y": {"datum": 1.056, "type": "quantitative"},
                    "size": {"field": "n", "type": "quantitative", "scale": {"domain": [0, 14], "range": [0, 16]}, "legend": null}
                  }
                },
                {
                  "data": {"values": [{}]},
                  "mark": {"type": "text", "align": "left", "baseline": "middle", "fontSize": 5.8, "color": "#333333"},
                  "encoding": {"x": {"datum": -0.054, "type": "quantitative"}, "y": {"datum": -0.514, "type": "quantitative"}, "text": {"value": "B= 400 repetitions, boot"}}
                },
                {
                  "data": {"values": [{}]},
                  "mark": {"type": "text", "align": "right", "baseline": "middle", "fontSize": 5.8, "color": "#333333"},
                  "encoding": {"x": {"datum": 1.044, "type": "quantitative"}, "y": {"datum": -0.514, "type": "quantitative"}, "text": {"value": "Mean absolute error=0.018 n=452"}}
                }
              ]
            },
            {
              "width": 235,
              "height": 148,
              "view": {"fill": "#FFFFFF", "stroke": "#8C8C8C", "strokeWidth": 1},
              "title": {"text": "F", "dx": -1},
              "layer": [
                {
                  "data": {"name": "zonesTest"},
                  "mark": {"type": "rect"},
                  "encoding": {
                    "x": {"field": "from", "type": "quantitative", "scale": {"domain": [-0.039, 1.063], "nice": false, "zero": false},
                      "axis": {"title": "Threshold probability (%)", "values": [0, 0.25, 0.5, 0.75, 1], "format": ".2f", "grid": false,
                        "domain": true, "domainColor": "#808080", "domainWidth": 1.2,
                        "tickColor": "#333333", "tickSize": 2, "labelFontSize": 6.5, "labelColor": "#4D4D4D", "labelPadding": 0.5, "labelFlush": false,
                        "labelOverlap": false, "titleFontSize": 8.5, "titleFontWeight": "normal", "titleColor": "#111111", "titlePadding": 3}},
                    "x2": {"field": "to"},
                    "y": {"datum": -0.084, "type": "quantitative", "scale": {"domain": [-0.195, 0.44], "nice": false, "zero": false},
                      "axis": {"title": "Net benefit", "values": [0, 0.2, 0.4], "format": ".1f",
                        "grid": false, "domain": true, "domainColor": "#808080", "domainWidth": 1.2,
                        "tickColor": "#333333", "tickSize": 1.5, "labelFontSize": 6.5, "labelColor": "#4D4D4D",
                        "labelPadding": 0, "labelFlush": false, "labelOverlap": false, "titleFontSize": 11, "titleFontWeight": "normal",
                        "titleColor": "#111111", "titlePadding": 4.5}},
                    "y2": {"datum": -0.164},
                    "fill": {"field": "zone", "type": "nominal", "scale": {"domain": ["irrelevant", "relevant"], "range": ["#0E4F9E", "#BE1E36"]}, "legend": null}
                  }
                },
                {
                  "data": {"values": [{}]},
                  "mark": {"type": "rect", "filled": false, "color": "#808080", "strokeWidth": 1.2},
                  "encoding": {"x": {"datum": -0.039, "type": "quantitative"}, "x2": {"datum": 1.063}, "y": {"datum": -0.195, "type": "quantitative"}, "y2": {"datum": 0.44}}
                },
                {
                  "data": {"name": "dcaTest"},
                  "transform": [{"filter": "datum.curve === 'test'"}],
                  "mark": {"type": "line", "clip": true, "strokeWidth": 1.3},
                  "encoding": {
                    "x": {"field": "t", "type": "quantitative"},
                    "y": {"field": "nb", "type": "quantitative"},
                    "color": {"field": "curve", "type": "nominal", "scale": {"domain": ["test", "all", "none"], "range": ["#F8766D", "#00BA38", "#619CFF"]},
                      "legend": {"orient": "none", "legendX": 183, "legendY": 21.8, "title": null, "symbolType": "stroke", "symbolSize": 121,
                        "symbolStrokeWidth": 2, "labelFontSize": 7.4, "labelColor": "#1A1A1A", "labelOffset": 3, "clipHeight": 10.5, "rowPadding": 0, "padding": 0}}
                  }
                },
                {
                  "data": {"name": "dcaTest"},
                  "transform": [{"filter": "datum.curve !== 'test'"}],
                  "mark": {"type": "line", "clip": true, "strokeWidth": 2},
                  "encoding": {
                    "x": {"field": "t", "type": "quantitative"},
                    "y": {"field": "nb", "type": "quantitative"},
                    "color": {"field": "curve", "type": "nominal"}
                  }
                },
                {
                  "data": {"values": [{}]},
                  "mark": {"type": "text", "color": "#34C934", "fontSize": 7.8},
                  "encoding": {"x": {"datum": 0.456, "type": "quantitative"}, "y": {"datum": -0.127, "type": "quantitative"}, "text": {"value": "Nomogram relevant"}}
                },
                {
                  "data": {"values": [{}]},
                  "mark": {"type": "text", "color": "#34C934", "fontSize": 7.8, "lineHeight": 9.1},
                  "encoding": {"x": {"datum": 0.945, "type": "quantitative"}, "y": {"datum": -0.126, "type": "quantitative"}, "text": {"value": ["Nomogram", "irrelevant"]}}
                }
              ]
            }
          ]
        }
      ]
    }
  ]
}
